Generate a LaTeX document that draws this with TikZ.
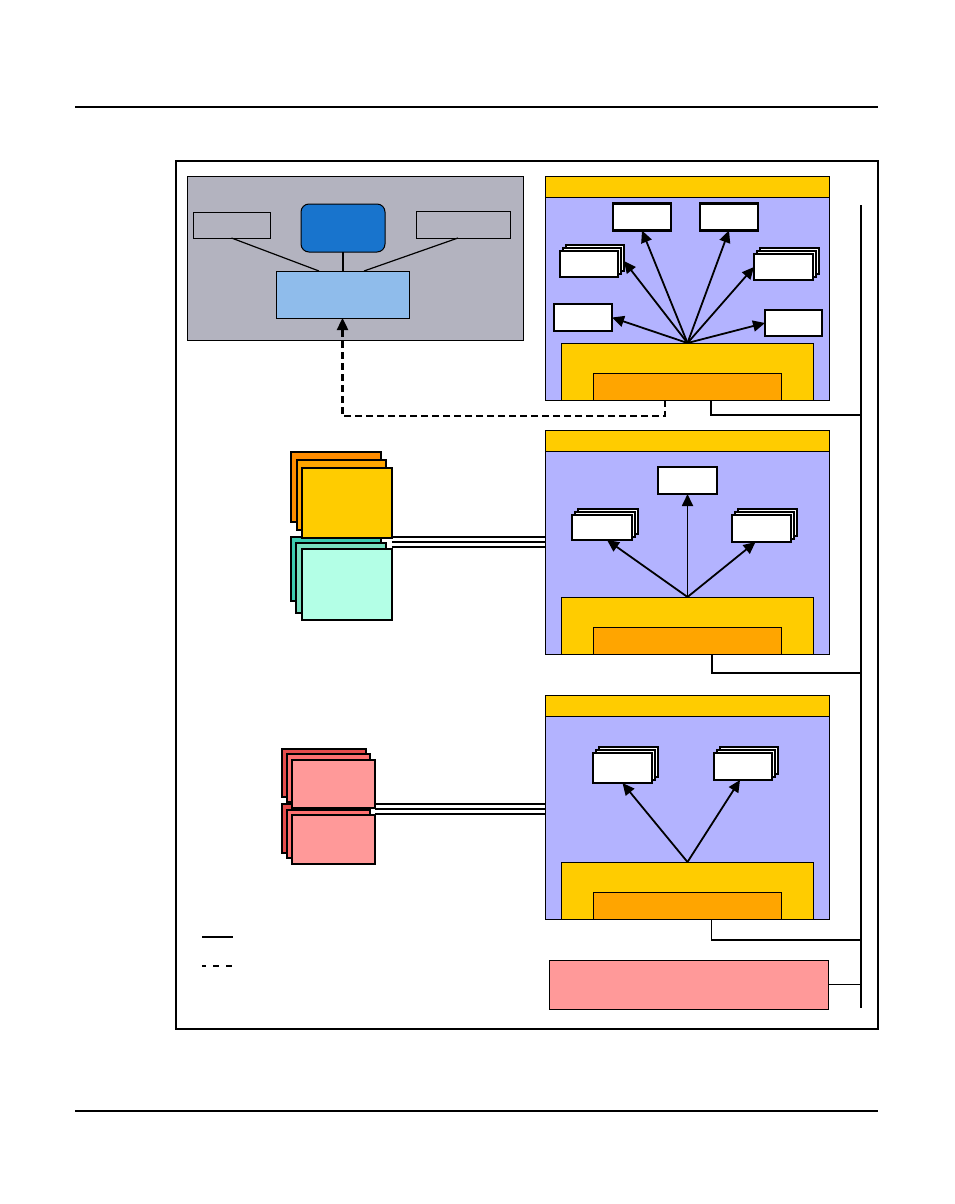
\documentclass[tikz,border=0pt]{standalone}
\usepackage{tikz}
\usetikzlibrary{arrows.meta, positioning, shadows}
\definecolor{panelGray}{HTML}{B3B3BF}
\definecolor{panelLav}{HTML}{B3B3FF}
\definecolor{bandYel}{HTML}{FFCC00}
\definecolor{coreOrg}{HTML}{FFA500}
\definecolor{darkOrg}{HTML}{FF8C00}
\definecolor{hostBlue}{HTML}{1874CD}
\definecolor{paleBlue}{HTML}{8FBCEB}
\definecolor{pinkBox}{HTML}{FF9999}
\definecolor{pinkMid}{HTML}{FF7070}
\definecolor{pinkDark}{HTML}{E64C4C}
\definecolor{tealDark}{HTML}{3CCCB0}
\definecolor{tealMid}{HTML}{78E0C0}
\definecolor{tealPale}{HTML}{B3FFE6}
\tikzset{
  base/.style={rectangle, inner sep=0pt, outer sep=0pt},
  gbox/.style={base, draw=black, line width=1pt, fill=panelGray},
  panel/.style={base, draw=black, line width=1pt, fill=panelLav,
                minimum width=284pt, minimum height=224pt},
  band/.style={base, draw=black, line width=1pt, fill=bandYel,
               minimum width=284pt, minimum height=21pt},
  core/.style={base, draw=black, line width=1pt, fill=bandYel,
               minimum width=252pt, minimum height=57pt},
  kernel/.style={base, draw=black, line width=1pt, fill=coreOrg,
                 minimum width=188pt, minimum height=27pt},
  wbox/.style={base, draw=black, line width=2.2pt, fill=white,
               minimum width=58pt, minimum height=27pt},
  wstack/.style={wbox, double copy shadow={shadow xshift=3pt, shadow yshift=3pt}},
  cbox/.style={base, draw=black, line width=1.6pt},
  arrowK/.style={-{Triangle[length=12pt, width=11pt]}, line width=1.8pt},
  dashK/.style={-{Triangle[length=12pt, width=11pt]}, line width=2.4pt,
                dash pattern=on 7pt off 4pt},
  linkK/.style={line width=2.2pt},
  busK/.style={line width=2.8pt},
  wireK/.style={line width=1.2pt},
}
\begin{document}
\begin{tikzpicture}[x=1pt, y=-1pt]
  \useasboundingbox (0,0) rectangle (954,1204);
  % page rules and frame
  \draw[wireK] (75,107) -- (878,107);
  \draw[wireK] (75,1111) -- (878,1111);
  \node[base, draw=black, line width=1.2pt, minimum width=702pt, minimum height=868pt]
    (frame) at (527,595) {};

  % host
  \node[gbox, minimum width=336pt, minimum height=164pt] (host) at (355,258) {};
  \node[gbox, minimum width=77pt, minimum height=26pt] (hostL) at (231.5,225) {};
  \node[gbox, minimum width=94pt, minimum height=27pt] (hostR) at (463,224.5) {};
  \node[gbox, fill=hostBlue, rounded corners=8pt, minimum width=84pt, minimum height=48pt]
    (hostCpu) at (343,228) {};
  \node[gbox, fill=paleBlue, minimum width=133pt, minimum height=47pt]
    (hostIf) at (342.5,294.5) {};
  \draw[wireK] (hostL.south) -- ([xshift=43pt]hostIf.north west);
  \draw[wireK] ([xshift=-5pt]hostR.south) -- ([xshift=-45pt]hostIf.north east);
  \draw[wireK] (hostCpu.south) -- (hostCpu.south |- hostIf.north);

  % panels
  \node[panel] (p1) at (687.5,288) {};
  \node[panel, below=30pt of p1] (p2) {};
  \node[panel, below=41pt of p2] (p3) {};
  \foreach \p in {p1,p2,p3} {
    \node[band, anchor=north] (\p band) at (\p.north) {};
    \node[core, anchor=south] (\p core) at (\p.south) {};
    \node[kernel, anchor=south] (\p kern) at (\p.south) {};
  }

  % panel 1
  \node[wbox] (s1a) at (642,217) {};
  \node[wbox] (s1b) at (729,217) {};
  \node[wstack, minimum height=26pt] (s1c) at (589,264) {};
  \node[wstack, minimum width=59pt, minimum height=26pt] (s1d) at (783.5,267) {};
  \node[wbox] (s1e) at (583,317.5) {};
  \node[wbox, minimum width=57pt, minimum height=26pt] (s1f) at (793.5,323) {};
  \foreach \t in {s1e.east, s1a.south, s1b.south, s1d.west, s1f.west}
    \draw[arrowK] (p1core.north) -- (\t);
  \draw[arrowK] (p1core.north) -- ([xshift=6pt, yshift=3pt]s1c.east);

  % panel 2
  \node[wbox, minimum width=59pt] (s2a) at (687.5,480.5) {};
  \node[wstack, minimum width=60pt, minimum height=25pt] (s2b) at (602,527.5) {};
  \node[wstack, minimum width=59pt] (s2c) at (761.5,528.5) {};
  \draw[arrowK] (p2core.north) -- ([xshift=5pt]s2b.south);
  \draw[arrowK] (p2core.north) -- (s2a.south);
  \draw[arrowK] (p2core.north) -- ([xshift=-6pt]s2c.south);

  % panel 3
  \node[wstack, minimum width=59pt, minimum height=30pt] (s3a) at (622.5,768) {};
  \node[wstack] (s3b) at (743,766.5) {};
  \draw[arrowK] (p3core.north) -- (s3a.south);
  \draw[arrowK] (p3core.north) -- ([xshift=-3pt]s3b.south);

  % store
  \node[cbox, line width=1pt, fill=pinkBox, minimum width=279pt, minimum height=49pt]
    (db) at (688.5,984.5) {};

  % bus
  \coordinate (busTop) at (861,205);
  \coordinate (busBot) at (861,1008);
  \coordinate (j1) at (861,415);
  \coordinate (j2) at (861,673);
  \coordinate (j3) at (861,940);
  \coordinate (j4) at (861,984.5);
  \draw[busK] (busTop) -- (busBot);
  \draw[wireK] ([xshift=23.5pt]p1.south) |- (j1);
  \draw[wireK, line width=2pt] ([xshift=24pt]p2.south) |- (j2);
  \draw[wireK] ([xshift=24pt]p3.south) |- (j3);
  \draw[wireK] (db.east) -- (j4);

  % dashed link to host
  \draw[dashK] ([xshift=-22.5pt]p1.south) -- ++(0,16) -| (hostIf.south);

  % devices, teal then orange
  \node[cbox, fill=tealDark, minimum width=90pt, minimum height=64pt] (io1) at (336,569) {};
  \node[cbox, fill=tealMid, minimum width=90pt, minimum height=70pt] (io2) at (341,578) {};
  \node[cbox, fill=tealPale, minimum width=90pt, minimum height=71pt] (io3) at (347,584.5) {};
  \node[cbox, fill=darkOrg, minimum width=90pt, minimum height=70pt] (dev1) at (336,487) {};
  \node[cbox, fill=coreOrg, minimum width=89pt, minimum height=70pt] (dev2) at (341.5,495) {};
  \node[cbox, fill=bandYel, minimum width=90pt, minimum height=70pt] (dev3) at (347,503) {};
  \foreach \d in {12,7,2}
    \draw[linkK] ([yshift=\d pt]io3.north east) coordinate (s) -- (s -| p2.west);

  % red devices
  \node[cbox, fill=pinkDark, minimum width=84pt, minimum height=49pt] (rc4) at (324,828.5) {};
  \node[cbox, fill=pinkMid, minimum width=83pt, minimum height=48pt] (rc5) at (328.5,834) {};
  \node[cbox, fill=pinkBox, minimum width=83pt, minimum height=49pt] (rc6) at (333.5,839.5) {};
  \node[cbox, fill=pinkDark, minimum width=84pt, minimum height=48pt] (rc1) at (324,773) {};
  \node[cbox, fill=pinkMid, minimum width=83pt, minimum height=48pt] (rc2) at (328.5,778) {};
  \node[cbox, fill=pinkBox, minimum width=83pt, minimum height=48pt] (rc3) at (333.5,784) {};
  \foreach \d in {11,6,1}
    \draw[linkK] ([yshift=\d pt]rc6.north east) coordinate (s) -- (s -| p3.west);

  % legend
  \draw[linkK] (202,937) -- (233,937);
  \draw[linkK, dash pattern=on 6pt off 7pt, dash phase=2pt] (202,966) -- (233,966);
\end{tikzpicture}
\end{document}
